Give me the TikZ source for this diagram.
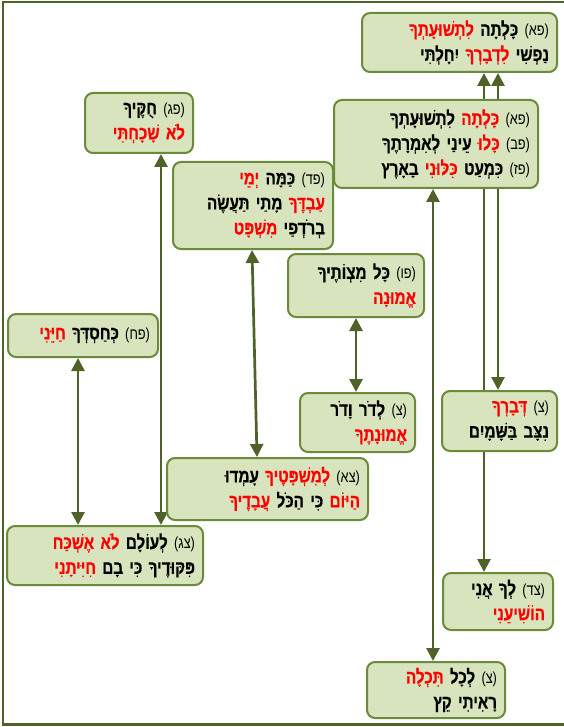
\documentclass[tikz,border=0pt]{standalone}
\usepackage{fontspec}
\usetikzlibrary{arrows.meta}
\newfontfamily\heb[Script=Hebrew, FakeStretch=0.8, BoldFeatures={FakeBold=0.6}]{Liberation Sans}
\definecolor{boxfill}{HTML}{D7E4BD}
\definecolor{boxline}{HTML}{6B8A3A}
\definecolor{conline}{HTML}{4F6228}
\definecolor{hred}{HTML}{FF0000}
\newcommand{\R}[1]{\textcolor{hred}{#1}}
\newcommand{\V}[1]{{\mdseries\fontsize{16}{25}\selectfont(#1)}}
\pgfdeclarelayer{bg}\pgfsetlayers{bg,main}
\begin{document}
\begin{tikzpicture}[x=1pt,y=-1pt,
  box/.style={draw=boxline, line width=2pt, fill=boxfill, rounded corners=8pt,
    font=\heb\bfseries\fontsize{19}{25}\selectfont, align=right, inner xsep=8pt, inner ysep=0pt},
  conn/.style={draw=conline, line width=2.7pt,
    {Triangle[length=13pt,width=13pt]}-{Triangle[length=13pt,width=13pt]}},
  frame/.style={draw=conline, line width=2.7pt}]
\useasboundingbox (0,0) rectangle (563,727);
\draw[frame] (3,2) rectangle (575,724.5);

% words are written in visual (left-to-right) order
\node[box, text width=179pt, minimum height=59pt] (b1) at (459.5,42.5)
  {\R{לִתְשׁוּעָתְךָ} כָּלְתָה \V{פא}\\ יִחָלְתִּי \R{לִדְבָרְךָ} נַפְשִׁי};
\node[box, text width=188pt, minimum height=88pt] (b2) at (436,144)
  {לִתְשׁוּעָתְךָ \R{כָּלְתָה} \V{פא}\\ לְאִמְרָתֶךָ עֵינַי \R{כָּלוּ} \V{פב}\\ בָאָרֶץ \R{כִּלּוּנִי} כִּמְעַט \V{פז}};
\node[box, text width=92pt, minimum height=60pt] (bPG) at (139,123)
  {חֻקֶּיךָ \V{פג}\\ \R{שָׁכָחְתִּי לֹא}};
\node[box, text width=144pt, minimum height=87pt] (bPD) at (253,205.5)
  {\R{יְמֵי} כַּמָּה \V{פד}\\ תַּעֲשֶׂה מָתַי \R{עַבְדֶּךָ}\\ \R{מִשְׁפָּט} בְרֹדְפַי};
\node[box, text width=120pt, minimum height=63pt] (bPV) at (356,285.5)
  {מִצְוֹתֶיךָ כָּל \V{פו}\\ \R{אֱמוּנָה}};
\node[box, text width=134pt, minimum height=43pt] (bPH) at (83,335.5)
  {\R{חַיֵּנִי} כְּחַסְדְּךָ \V{פח}};
\node[box, text width=99pt, minimum height=59pt] (bTZ) at (357.5,422.5)
  {וָדֹר לְדֹר \V{צ}\\ \R{אֱמוּנָתֶךָ}};
\node[box, text width=99pt, minimum height=60pt] (bDV) at (499.5,421)
  {\R{דְּבָרְךָ} \V{צ}\\ בַּשָּׁמָיִם נִצָּב};
\node[box, text width=185pt, minimum height=62pt] (bTA) at (267.5,489)
  {עָמְדוּ \R{לְמִשְׁפָּטֶיךָ} \V{צא}\\ \R{עֲבָדֶיךָ} הַכֹּל כִּי \R{הַיּוֹם}};
\node[box, text width=180pt, minimum height=59pt] (bTG) at (105,555.5)
  {\R{אֶשְׁכַּח לֹא} לְעוֹלָם \V{צג}\\ \R{חִיִּיתָנִי} בָם כִּי פִּקּוּדֶיךָ};
\node[box, text width=94pt, minimum height=57pt] (bTD) at (498,601.5)
  {אֲנִי לְךָ \V{צד}\\ \R{הוֹשִׁיעֵנִי}};
\node[box, text width=122pt, minimum height=56pt] (bBT) at (436,690)
  {\R{תִּכְלָה} לְכָל \V{צ}\\ קֵץ רָאִיתִי};

\coordinate (xA) at (484,0);
\coordinate (xB) at (498,0);
\coordinate (xC) at (433,0);
\coordinate (xD) at (161,0);
\coordinate (xE) at (78,0);
\coordinate (xF1) at (252,0);
\coordinate (xF2) at (257,0);
\coordinate (xG) at (356,0);

\begin{pgfonlayer}{bg}
\draw[conn] (b1.south -| xA) -- (bTD.north -| xA);
\draw[conn] (b1.south -| xB) -- (bDV.north -| xB);
\draw[conn] (b2.south -| xC) -- (bBT.north -| xC);
\draw[conn] (bPG.south -| xD) -- (bTG.north -| xD);
\draw[conn] (bPH.south -| xE) -- (bTG.north -| xE);
\draw[conn] (bPD.south -| xF1) -- (bTA.north -| xF2);
\draw[conn] (bPV.south -| xG) -- (bTZ.north -| xG);
\end{pgfonlayer}
\end{tikzpicture}
\end{document}
